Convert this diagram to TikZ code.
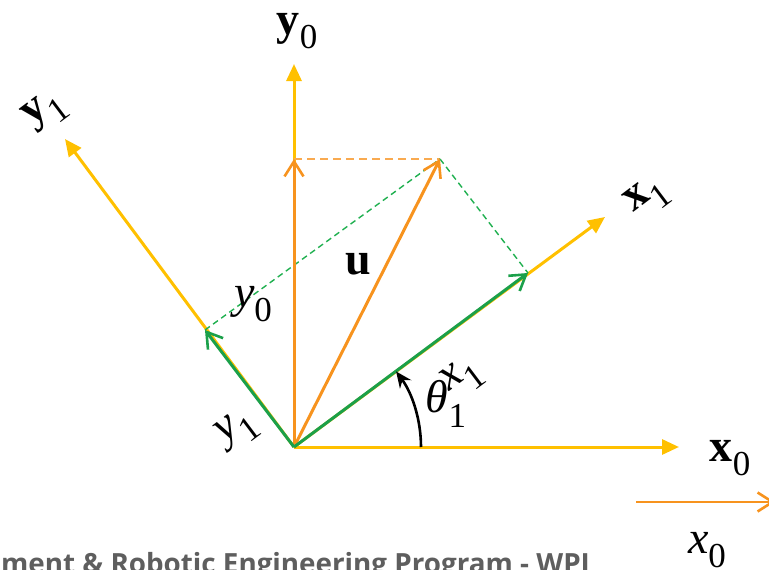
\documentclass[tikz,border=0pt]{standalone}
\usepackage{fontspec}
\setmainfont{Liberation Serif}
\newfontfamily\footfont{Open Sans}
\usetikzlibrary{arrows.meta}
\definecolor{axisyel}{HTML}{FFC000}
\definecolor{uorange}{HTML}{F7931E}
\definecolor{dorange}{HTML}{F9AA50}
\definecolor{cgreen}{HTML}{1BA04A}
\definecolor{dgreen}{HTML}{20B050}
\definecolor{footgray}{HTML}{5E5E5E}
\newcommand\lab[2]{#1\raisebox{-0.32em}{\fontsize{35}{35}\selectfont #2}}
\tikzset{
  axis/.style={draw=axisyel, line width=3pt, -{Triangle[length=17pt,width=15pt]}},
  comp/.style={line width=3pt, -{Straight Barb[length=15pt,width=19pt,line width=2.6pt]}},
  proj/.style={dashed, line width=1.4pt, dash pattern=on 6pt off 4pt},
  lbl/.style={inner sep=0pt, font=\fontsize{46}{50}\selectfont},
}
\begin{document}
\begin{tikzpicture}[x=1pt,y=-1pt]
\useasboundingbox (0,0) rectangle (769,570);
\clip (0,0) rectangle (769,570);
% points
\coordinate (O) at (294,447);
\coordinate (X0) at (679,447);
\coordinate (Y0) at (294,64);
\coordinate (X1) at (605,217);
\coordinate (Y1) at (65,139);
\coordinate (U) at (440,159);
\coordinate (UY0) at (294,159);
\coordinate (UX1) at (528,273);
\coordinate (UY1) at (205,330);
\coordinate (A0) at (421,447);
\coordinate (B0) at (636,502);
\coordinate (B1) at (775,502);
% axes
\draw[axis] (O) -- (X0);
\draw[axis] (O) -- (Y0);
\draw[axis] (O) -- (X1);
\draw[axis] (O) -- (Y1);
% projections
\draw[proj, draw=dorange, line width=2pt, dash pattern=on 8pt off 5pt] (UY0) -- (U);
\draw[proj, draw=dgreen] (UY1) -- (U);
\draw[proj, draw=dgreen] (U) -- (UX1);
% components
\draw[comp, draw=uorange] (O) -- (UY0);
\draw[comp, draw=uorange] (O) -- (U);
\draw[comp, draw=cgreen] (O) -- (UX1);
\draw[comp, draw=cgreen] (O) -- (UY1);
% angle
\draw[line width=2.6pt, -{Stealth[length=16pt,width=14pt]}] (A0) arc[start angle=0, end angle=36.5, radius=127pt];
% bottom arrow
\draw[comp, draw=uorange, line width=2.6pt] (B0) -- (B1);
% labels
\node[lbl] (ly0b) at (297,31) {\lab{\textbf{y}}{0}};
\node[lbl, rotate=37] (ly1b) at (46,112) {\lab{\textbf{y}}{1}};
\node[lbl, rotate=37] (lx1b) at (648,198) {\lab{\textbf{x}}{1}};
\node[lbl] (lx0b) at (730,458) {\lab{\textbf{x}}{0}};
\node[lbl] (lu) at (358,264) {\textbf{u}};
\node[lbl] (ly0i) at (253,304) {\lab{\textit{y}}{0}};
\node[lbl, rotate=37] (ly1i) at (238,430) {\lab{\textit{y}}{1}};
\node[lbl, rotate=37] (lx1i) at (463,378) {\lab{\textit{x}}{1}};
\node[lbl] (lth) at (446,404) {\lab{\textit{θ}}{1}};
\node[lbl] (lx0i) at (707,550) {\lab{\textit{x}}{0}};
\node[anchor=base west, inner sep=0pt, text=footgray, font=\footfont\bfseries\fontsize{27.8}{32}\selectfont] (foot) at (1,573) {ment \& Robotic Engineering Program - WPI};
\end{tikzpicture}
\end{document}
